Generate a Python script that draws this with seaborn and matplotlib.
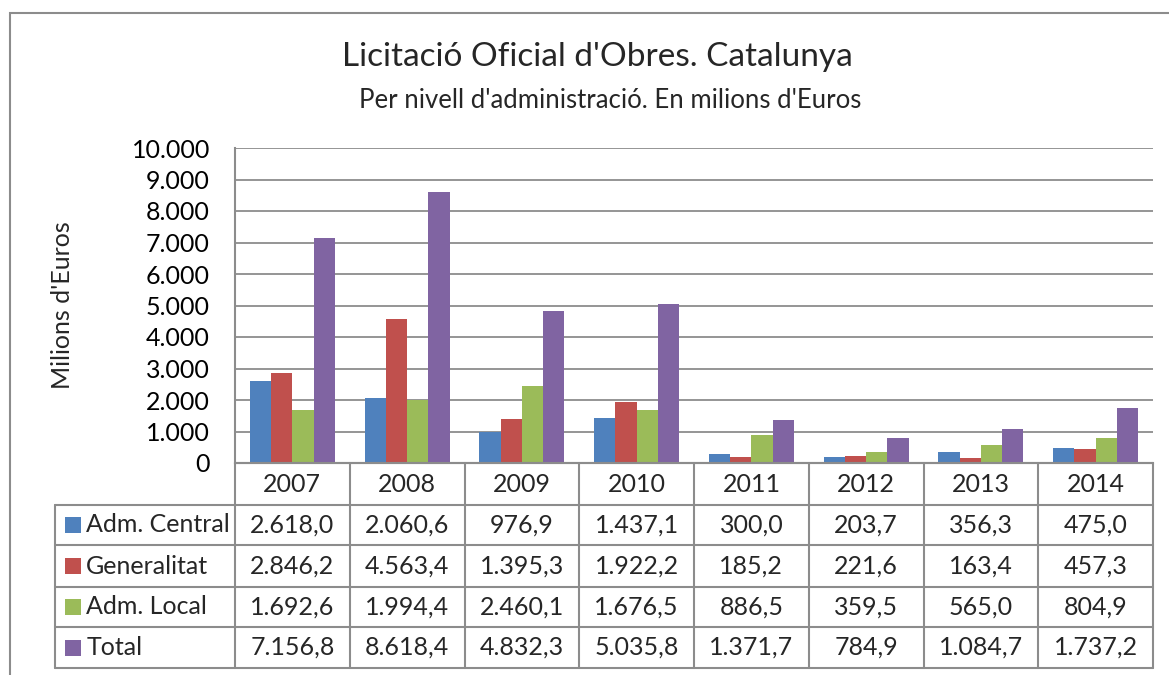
import matplotlib
matplotlib.use("Agg")
import matplotlib.pyplot as plt
import seaborn as sns
import pandas as pd
from matplotlib.ticker import FuncFormatter, MultipleLocator
from matplotlib.patches import Rectangle
from matplotlib.lines import Line2D

years = ["2007", "2008", "2009", "2010", "2011", "2012", "2013", "2014"]
series = ["Adm. Central", "Generalitat", "Adm. Local", "Total"]
adm_central = [2618.0, 2060.6, 976.9, 1437.1, 300.0, 203.7, 356.3, 475.0]
generalitat = [2846.2, 4563.4, 1395.3, 1922.2, 185.2, 221.6, 163.4, 457.3]
adm_local = [1692.6, 1994.4, 2460.1, 1676.5, 886.5, 359.5, 565.0, 804.9]
total = [7156.8, 8618.4, 4832.3, 5035.8, 1371.7, 784.9, 1084.7, 1737.2]
colors = ["#4F81BD", "#C0504D", "#9BBB59", "#8064A2"]

title = "Licitació Oficial d'Obres. Catalunya"
subtitle = "Per nivell d'administració. En milions d'Euros"
ylabel = "Milions d'Euros"

sns.set_theme(style="white")
plt.rcParams['font.family'] = ['Lato', 'DejaVu Sans']

values = [adm_central, generalitat, adm_local, total]
rows = []
for s, vals in zip(series, values):
    for y, v in zip(years, vals):
        rows.append({"year": y, "series": s, "value": v})
df = pd.DataFrame(rows)

W, H = 1169, 675
GRAY = "#8c8c8c"
FS = 18
fig = plt.figure(figsize=(W / 100, H / 100), dpi=100)
fig.patch.set_facecolor("white")

# outer frame (only top and left edges visible)
fig.add_artist(Rectangle((10 / W, -0.05), 1.2, 1 - 13 / H + 0.05,
                         transform=fig.transFigure, fill=False,
                         edgecolor=GRAY, lw=1.5))

ax_bottom_px = 463
ax_h_px = 315
ax = fig.add_axes([235 / W, (H - ax_bottom_px) / H, 918 / W, ax_h_px / H])
sns.barplot(data=df, x="year", y="value", hue="series", palette=colors,
            width=0.74, saturation=1, errorbar=None, legend=False,
            linewidth=0, ax=ax)

ax.set_ylim(0, 10000)
ax.set_xlim(-0.5, len(years) - 0.5)
ax.yaxis.set_major_locator(MultipleLocator(1000))
ax.yaxis.set_major_formatter(FuncFormatter(lambda v, p: f"{int(round(v)):,}".replace(",", ".")))
ax.yaxis.grid(True, color=GRAY, lw=1.3)
ax.set_axisbelow(True)
for sp in ["top", "right"]:
    ax.spines[sp].set_visible(False)
for sp in ["left", "bottom"]:
    ax.spines[sp].set_color(GRAY)
    ax.spines[sp].set_linewidth(1.5)
ax.tick_params(axis="y", length=0, pad=18, labelsize=FS, labelcolor="black")
ax.set_xticks([])
ax.set_xlabel("")
ax.set_ylabel("")

fig.text(597 / W, 1 - 57 / H, title, ha="center", va="center", fontsize=24)
fig.text(610 / W, 1 - 100 / H, subtitle, ha="center", va="center", fontsize=18.5)
fig.text(62 / W, 1 - 305 / H, ylabel, rotation=90, ha="center", va="center", fontsize=FS)

# data table below axis
tr = ax.get_xaxis_transform()

def yf(py):
    return (ax_bottom_px - py) / ax_h_px

row_edges = [463, 505, 545, 587, 627, 668]
label_left = -0.5 - 180 / 115
n = len(years)

def fmt_num(v):
    s = f"{v:,.1f}"
    return s.replace(",", "X").replace(".", ",").replace("X", ".")

def line(x0, x1, y0, y1):
    ax.add_line(Line2D([x0, x1], [y0, y1], transform=tr, color=GRAY,
                       lw=1.5, clip_on=False))

# horizontal lines
line(-0.5, n - 0.5, yf(row_edges[0]), yf(row_edges[0]))
for pe in row_edges[1:]:
    line(label_left, n - 0.5, yf(pe), yf(pe))
# vertical lines
for i in range(n + 1):
    line(i - 0.5, i - 0.5, yf(row_edges[0]), yf(row_edges[-1]))
line(label_left, label_left, yf(row_edges[1]), yf(row_edges[-1]))

# header
hc = (row_edges[0] + row_edges[1]) / 2
for i, y in enumerate(years):
    ax.text(i, yf(hc), y, transform=tr, ha="center", va="center", fontsize=FS, clip_on=False)

for r, (s, vals, c) in enumerate(zip(series, values, colors)):
    cy = (row_edges[r + 1] + row_edges[r + 2]) / 2
    key_w = 16 / 115
    ax.add_patch(Rectangle((label_left + 10 / 115, yf(cy) - 8 / ax_h_px), key_w, 16 / ax_h_px,
                           transform=tr, facecolor=c, edgecolor="none", clip_on=False))
    ax.text(label_left + 31 / 115, yf(cy), s, transform=tr, ha="left", va="center",
            fontsize=FS, clip_on=False)
    for i, v in enumerate(vals):
        ax.text(i, yf(cy), fmt_num(v), transform=tr, ha="center", va="center",
                fontsize=FS, clip_on=False)

fig.savefig("out.png", dpi=100)
